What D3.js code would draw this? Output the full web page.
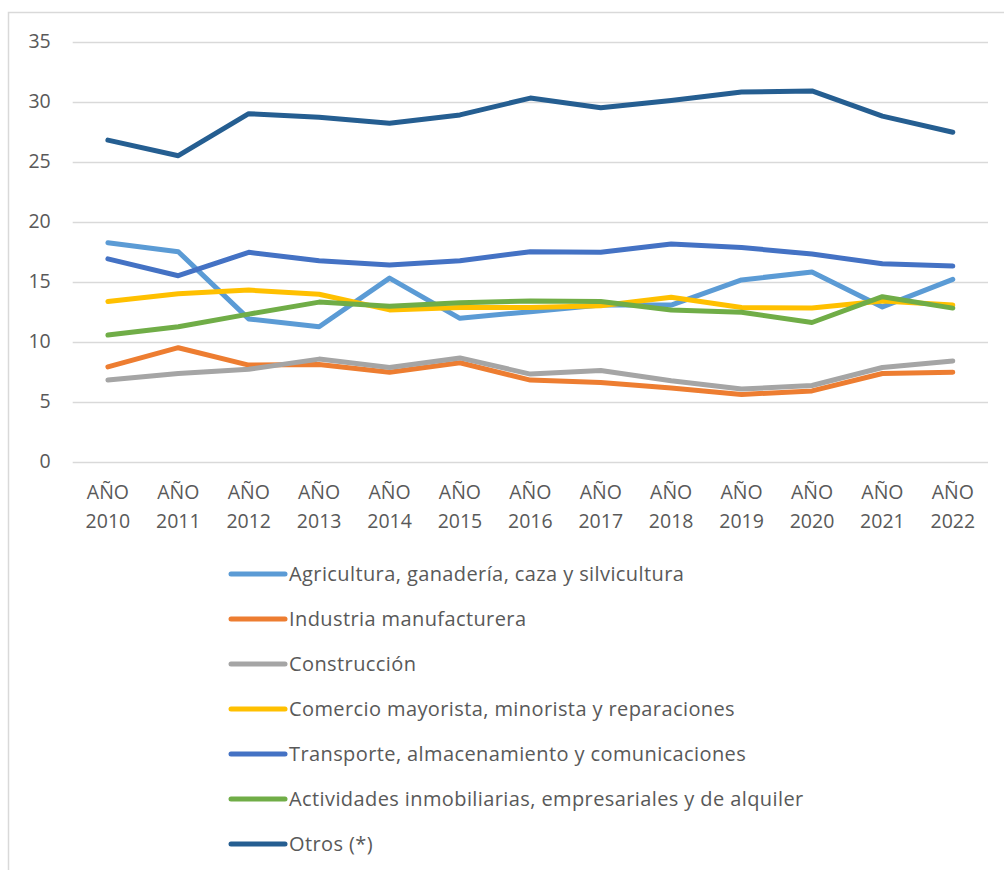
<!DOCTYPE html>
<html>
<head>
<meta charset="utf-8">
<script src="https://cdn.jsdelivr.net/npm/d3@7"></script>
<style>
  html, body { margin: 0; padding: 0; background: #fff; }
  text { font-family: "Open Sans", "Noto Sans", sans-serif; fill: #595959; }
</style>
</head>
<body>
<div id="chart"></div>
<script>
// Categories (x axis)
const years = ["2010", "2011", "2012", "2013", "2014", "2015", "2016",
	"2017", "2018", "2019", "2020", "2021", "2022"];
const yTicks = [0, 5, 10, 15, 20, 25, 30, 35];

// Series names and colours
const seriesNames = [
	"Agricultura, ganadería, caza y silvicultura",
	"Industria manufacturera",
	"Construcción",
	"Comercio mayorista, minorista y reparaciones",
	"Transporte, almacenamiento y comunicaciones",
	"Actividades inmobiliarias, empresariales y de alquiler",
	"Otros (*)"
];
const seriesColors = ["#5B9BD5", "#ED7D31", "#A5A5A5", "#FFC000", "#4472C4", "#70AD47", "#255E91"];

// Values
const agricultura = [18.25, 17.5, 11.9, 11.25, 15.3, 11.95, 12.5, 13.05, 13.05, 15.15, 15.8, 12.9, 15.2];
const industria = [7.9, 9.5, 8.05, 8.1, 7.45, 8.25, 6.8, 6.6, 6.15, 5.6, 5.9, 7.35, 7.45];
const construccion = [6.8, 7.35, 7.7, 8.55, 7.85, 8.65, 7.3, 7.6, 6.75, 6.05, 6.35, 7.85, 8.4];
const comercio = [13.35, 14.0, 14.3, 13.95, 12.65, 12.85, 12.85, 13.0, 13.7, 12.85, 12.8, 13.4, 13.05];
const transporte = [16.9, 15.5, 17.45, 16.75, 16.4, 16.75, 17.5, 17.45, 18.15, 17.85, 17.3, 16.5, 16.3];
const actividades = [10.55, 11.25, 12.3, 13.3, 12.95, 13.25, 13.4, 13.35, 12.65, 12.45, 11.6, 13.75, 12.8];
const otros = [26.8, 25.5, 29.0, 28.7, 28.2, 28.9, 30.3, 29.5, 30.1, 30.8, 30.9, 28.8, 27.45];

const seriesValues = [agricultura, industria, construccion, comercio, transporte, actividades, otros];

function drawChart() {
	const width = 1004, height = 870;
	const svg = d3.select("#chart")
		.append("svg")
		.attr("width", width)
		.attr("height", height);

	// Chart frame
	svg.append("rect")
		.attr("x", 8.5).attr("y", 12.5)
		.attr("width", 1010).attr("height", 880)
		.attr("fill", "none")
		.attr("stroke", "#d9d9d9")
		.attr("stroke-width", 1.5);

	const plot = { left: 72.7, right: 988, top: 41.7, bottom: 461.7 };

	const x = d3.scaleBand()
		.domain(years)
		.range([plot.left, plot.right]);

	const y = d3.scaleLinear()
		.domain([0, 35])
		.range([plot.bottom, plot.top]);

	// Gridlines
	svg.append("g")
		.selectAll("line")
		.data(yTicks)
		.join("line")
		.attr("x1", plot.left)
		.attr("x2", plot.right)
		.attr("y1", (d) => Math.round(y(d)) + 0.5)
		.attr("y2", (d) => Math.round(y(d)) + 0.5)
		.attr("stroke", "#d9d9d9")
		.attr("stroke-width", 1.5);

	// Y axis labels
	const yAxis = svg.append("g")
		.attr("transform", `translate(${plot.left - 22},0)`)
		.call(d3.axisLeft(y).tickValues(yTicks).tickSize(0).tickPadding(0));
	yAxis.select(".domain").remove();
	yAxis.selectAll("text")
		.style("font-size", "19.5px")
		.style("font-family", null)
		.attr("fill", "#595959");

	// X axis labels (two lines)
	const xAxis = svg.append("g")
		.attr("transform", `translate(0,${plot.bottom})`)
		.call(d3.axisBottom(x).tickSize(0).tickFormat(""));
	xAxis.select(".domain").remove();
	xAxis.selectAll(".tick")
		.append("text")
		.attr("text-anchor", "middle")
		.style("font-size", "19.5px")
		.each(function (d) {
			const t = d3.select(this);
			t.append("tspan").attr("x", 0).attr("y", 37).text("AÑO");
			t.append("tspan").attr("x", 0).attr("y", 66).text(d);
		});

	// Lines
	const line = d3.line()
		.x((d, i) => x(years[i]) + x.bandwidth() / 2)
		.y((d) => y(d));

	svg.append("g")
		.selectAll("path")
		.data(seriesValues)
		.join("path")
		.attr("d", (d) => line(d))
		.attr("fill", "none")
		.attr("stroke", (d, i) => seriesColors[i])
		.attr("stroke-width", 5)
		.attr("stroke-linecap", "round")
		.attr("stroke-linejoin", "round");

	// Legend
	const legend = svg.append("g")
		.selectAll("g")
		.data(seriesNames)
		.join("g")
		.attr("transform", (d, i) => `translate(231,${574 + i * 45})`);

	legend.append("line")
		.attr("x1", 0).attr("x2", 54)
		.attr("stroke", (d, i) => seriesColors[i])
		.attr("stroke-width", 5)
		.attr("stroke-linecap", "round");

	legend.append("text")
		.attr("x", 58)
		.attr("dy", "0.35em")
		.style("font-size", "20px")
		.style("letter-spacing", "0.4px")
		.text((d) => d);
}

drawChart();
</script>
</body>
</html>
